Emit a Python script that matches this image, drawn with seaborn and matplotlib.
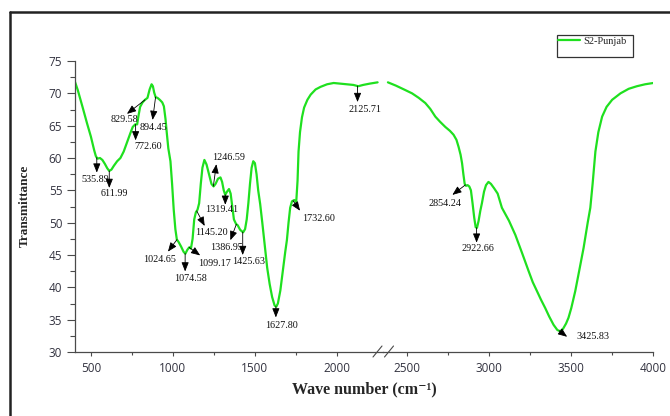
import numpy as np
import pandas as pd
import matplotlib
matplotlib.use('Agg')
import matplotlib.pyplot as plt
import seaborn as sns
from matplotlib.lines import Line2D
from matplotlib.patches import Rectangle
from matplotlib.ticker import MultipleLocator, FixedLocator

# FTIR spectrum (two pieces either side of the axis break)
wn_low = [400, 420, 450, 476, 500, 520, 530, 540, 555, 570, 585, 600, 612, 625, 640, 660,
          680, 700, 720, 740, 755, 770, 782, 790, 800, 815, 830, 845, 858, 870, 878, 886,
          895, 906, 920, 935, 945, 955, 963, 972, 985, 995, 1005, 1015, 1024, 1035, 1050,
          1065, 1076, 1088, 1100, 1110, 1120, 1130, 1140, 1150, 1160, 1170, 1180, 1192,
          1205, 1220, 1235, 1248, 1260, 1275, 1290, 1300, 1310, 1319, 1330, 1342, 1352,
          1362, 1372, 1385, 1395, 1410, 1428, 1440, 1450, 1460, 1470, 1480, 1490, 1500,
          1510, 1520, 1532, 1545, 1560, 1575, 1590, 1605, 1620, 1630, 1640, 1655, 1670,
          1685, 1695, 1705, 1715, 1726, 1740, 1752, 1760, 1766, 1775, 1787, 1800, 1820,
          1840, 1870, 1900, 1940, 1980, 2020, 2060, 2100, 2130, 2160, 2200, 2248]
t_low = [72.0, 70.5, 67.8, 65.4, 63.3, 61.2, 60.3, 59.9, 60.0, 59.7, 59.1, 58.4, 58.0, 58.2,
         58.8, 59.5, 60.0, 61.0, 62.4, 63.8, 64.8, 65.2, 65.2, 66.5, 67.9, 68.6, 69.0, 69.3,
         70.6, 71.4, 71.1, 70.1, 69.4, 69.3, 69.0, 68.6, 68.0, 66.0, 63.8, 61.5, 59.5, 56.0,
         52.0, 49.0, 47.4, 47.0, 46.3, 45.5, 45.2, 45.8, 46.2, 46.0, 47.5, 50.5, 51.6, 52.0,
         53.0, 56.0, 58.5, 59.7, 59.0, 57.5, 56.0, 55.6, 56.0, 56.8, 57.0, 56.3, 55.0, 54.3,
         54.8, 55.2, 54.5, 52.5, 50.5, 49.8, 49.6, 48.9, 48.5, 49.0, 50.5, 53.0, 56.0, 58.5,
         59.5, 59.2, 57.5, 55.0, 52.9, 50.0, 46.5, 43.0, 40.5, 38.5, 37.2, 37.0, 37.5, 39.5,
         42.5, 45.5, 47.3, 50.0, 52.3, 53.3, 53.5, 53.2, 56.5, 61.0, 64.0, 66.3, 67.8, 69.0,
         69.8, 70.6, 71.0, 71.4, 71.6, 71.5, 71.4, 71.3, 71.1, 71.3, 71.5, 71.7]

wn_high = [2382, 2430, 2480, 2529, 2570, 2610, 2640, 2671, 2700, 2732, 2760, 2782, 2800,
           2813, 2825, 2834, 2842, 2850, 2858, 2868, 2878, 2888, 2898, 2908, 2917, 2925,
           2935, 2945, 2955, 2968, 2980, 2995, 3010, 3030, 3051, 3077, 3120, 3159, 3200,
           3240, 3265, 3291, 3315, 3341, 3365, 3392, 3415, 3433, 3450, 3468, 3483, 3500,
           3524, 3550, 3575, 3600, 3616, 3630, 3647, 3665, 3688, 3715, 3749, 3800, 3850,
           3900, 3950, 4000]
t_high = [71.7, 71.2, 70.6, 70.0, 69.3, 68.5, 67.6, 66.4, 65.6, 64.8, 64.2, 63.6, 62.8,
          61.7, 60.5, 59.2, 57.5, 56.0, 55.7, 55.8, 55.6, 55.0, 53.0, 50.8, 49.3, 49.2,
          50.3, 51.8, 53.0, 54.8, 55.8, 56.3, 56.0, 55.3, 54.5, 52.3, 50.3, 48.1, 45.3,
          42.5, 40.8, 39.4, 38.1, 36.8, 35.5, 34.2, 33.4, 33.2, 33.6, 34.4, 35.3, 36.8,
          39.4, 42.8, 46.1, 50.0, 52.3, 56.0, 61.0, 64.0, 66.4, 67.9, 69.0, 70.0, 70.7,
          71.1, 71.4, 71.6]

peak_labels = ['535.89', '611.99', '829.58', '772.60', '894.45', '1246.59', '1319.41',
               '1145.20', '1386.95', '1425.63', '1099.17', '1074.58', '1024.65', '1627.80',
               '1732.60', '2125.71', '2854.24', '2922.66', '3425.83']
peak_wn = [535.89, 611.99, 829.58, 772.60, 894.45, 1246.59, 1319.41, 1145.20, 1386.95,
           1425.63, 1099.17, 1074.58, 1024.65, 1627.80, 1732.60, 2125.71, 2854.24,
           2922.66, 3425.83]

# layout: arrow head and label centre, offset from the peak in pixels (right, down)
arrow_px = [(0, 15), (0, 17), (-18, 14), (0, 16), (-3, 23), (3, -22), (0, 10), (8, 15),
            (-6, 16), (0, 23), (11, 8), (0, 18), (-9, 12), (0, 11), (7, 10), (0, 16),
            (-13, 10), (0, 15), (8, 6)]
text_px = [(-2, 22), (5, 23), (-21, 20), (13, 22), (-2, 31), (15, -29), (-4, 15), (15, 22),
           (-10, 23), (6, 29), (25, 16), (5, 25), (-17, 20), (6, 19), (25, 18), (7, 23),
           (-20, 19), (1, 21), (34, 6)]

green = '#1fe01f'
W, H = 670, 416

sns.set_style('ticks')
plt.rcParams['font.family'] = ['Liberation Serif', 'DejaVu Serif']

low = pd.DataFrame({'wn': wn_low, 'T': t_low})
high = pd.DataFrame({'wn': wn_high, 'T': t_high})

fig = plt.figure(figsize=(W / 100, H / 100), dpi=100)
ax1 = fig.add_axes([74.5 / W, 1 - 352 / H, (383 - 74.5) / W, 291 / H])
ax2 = fig.add_axes([383 / W, 1 - 352 / H, (653.3 - 383) / W, 291 / H])

sns.lineplot(data=low, x='wn', y='T', ax=ax1, color=green, lw=1.6, sort=False,
             estimator=None, legend=False)
sns.lineplot(data=high, x='wn', y='T', ax=ax2, color=green, lw=1.6, sort=False,
             estimator=None, legend=False)

axis_col = '#4a4a4a'
tick_font = {'family': 'Open Sans', 'size': 8.5}
for ax in (ax1, ax2):
    ax.set_ylim(30, 75)
    ax.set_xlabel('')
    ax.set_ylabel('')
    ax.set_facecolor('none')
    ax.spines['top'].set_visible(False)
    for s in ax.spines.values():
        s.set_color(axis_col)
        s.set_linewidth(0.9)
    ax.tick_params(axis='x', which='major', length=3, width=0.8, color=axis_col,
                   pad=4.5, labelcolor='#333340')
    ax.tick_params(axis='x', which='minor', length=2.2, width=0.8, color=axis_col)
    for lab in ax.get_xticklabels():
        lab.set_fontfamily(tick_font['family'])

ax1.set_xlim(400, 2281)
ax2.set_xlim(2352, 4000)
ax1.spines['right'].set_visible(False)
ax2.spines['left'].set_visible(False)
ax2.spines['right'].set_visible(False)

ax1.xaxis.set_major_locator(FixedLocator([500, 1000, 1500, 2000]))
ax1.xaxis.set_minor_locator(FixedLocator([750, 1250, 1750]))
ax2.xaxis.set_major_locator(FixedLocator([2500, 3000, 3500, 4000]))
ax2.xaxis.set_minor_locator(FixedLocator([2750, 3250, 3750]))
ax1.yaxis.set_major_locator(MultipleLocator(5))
ax1.yaxis.set_minor_locator(MultipleLocator(2.5))
ax1.tick_params(axis='y', which='major', length=5.8, width=0.8, color=axis_col, pad=3,
                labelcolor='#333340')
ax1.tick_params(axis='y', which='minor', length=3.4, width=0.8, color=axis_col)
ax2.tick_params(axis='y', which='both', left=False, labelleft=False)

for ax in (ax1, ax2):
    for lab in ax.get_xticklabels() + ax.get_yticklabels():
        lab.set_fontfamily('Open Sans')
        lab.set_fontsize(8.5)

# peak annotations
for lab, w, (adx, ady), (tdx, tdy) in zip(peak_labels, peak_wn, arrow_px, text_px):
    if w < 2300:
        ax, x, y = ax1, wn_low, t_low
    else:
        ax, x, y = ax2, wn_high, t_high
    ty = np.interp(w, x, y)
    ax.annotate('', xy=(w, ty), xytext=(adx * 0.72, -ady * 0.72), textcoords='offset points',
                arrowprops=dict(arrowstyle='<|-,head_length=0.55,head_width=0.22',
                                color='black', lw=0.6, shrinkA=0, shrinkB=0,
                                mutation_scale=10))
    ax.annotate(lab, xy=(w, ty), xytext=(tdx * 0.72, -tdy * 0.72), textcoords='offset points',
                ha='center', va='center', fontsize=7.3, color='#111111')

# axis break marks
for x0 in (377.5, 389.0):
    fig.add_artist(Line2D([(x0 - 4.5) / W, (x0 + 4.5) / W], [1 - 357 / H, 1 - 346 / H],
                          color=axis_col, lw=0.8))

fig.text(25 / W, 1 - 206 / H, 'Transmittance', rotation=90, ha='center', va='center',
         fontsize=9.5, fontweight='bold')
fig.text(364 / W, 1 - 389 / H, 'Wave number (cm⁻¹)', ha='center', va='center',
         fontsize=11.5, fontweight='bold', family=['Liberation Serif', 'DejaVu Serif'])

# legend
fig.legend(handles=[Line2D([], [], color=green, lw=1.6)], labels=['S2-Punjab'],
           loc='upper left', bbox_to_anchor=(557 / W, 1 - 35.5 / H), frameon=False,
           handlelength=2.1, handletextpad=0.35, borderpad=0.1, borderaxespad=0,
           prop={'size': 7.5})
fig.patches.append(Rectangle((556.7 / W, 1 - 57.3 / H), 76 / W, 22.3 / H,
                             transform=fig.transFigure, fill=False, ec='#333333', lw=0.9))

# outer frame (top and left only visible)
fig.add_artist(Line2D([10 / W, 1], [1 - 12 / H, 1 - 12 / H], color='#222222', lw=1.8))
fig.add_artist(Line2D([10 / W, 10 / W], [0, 1 - 12 / H], color='#222222', lw=1.8))

fig.savefig('out.png', dpi=100)
